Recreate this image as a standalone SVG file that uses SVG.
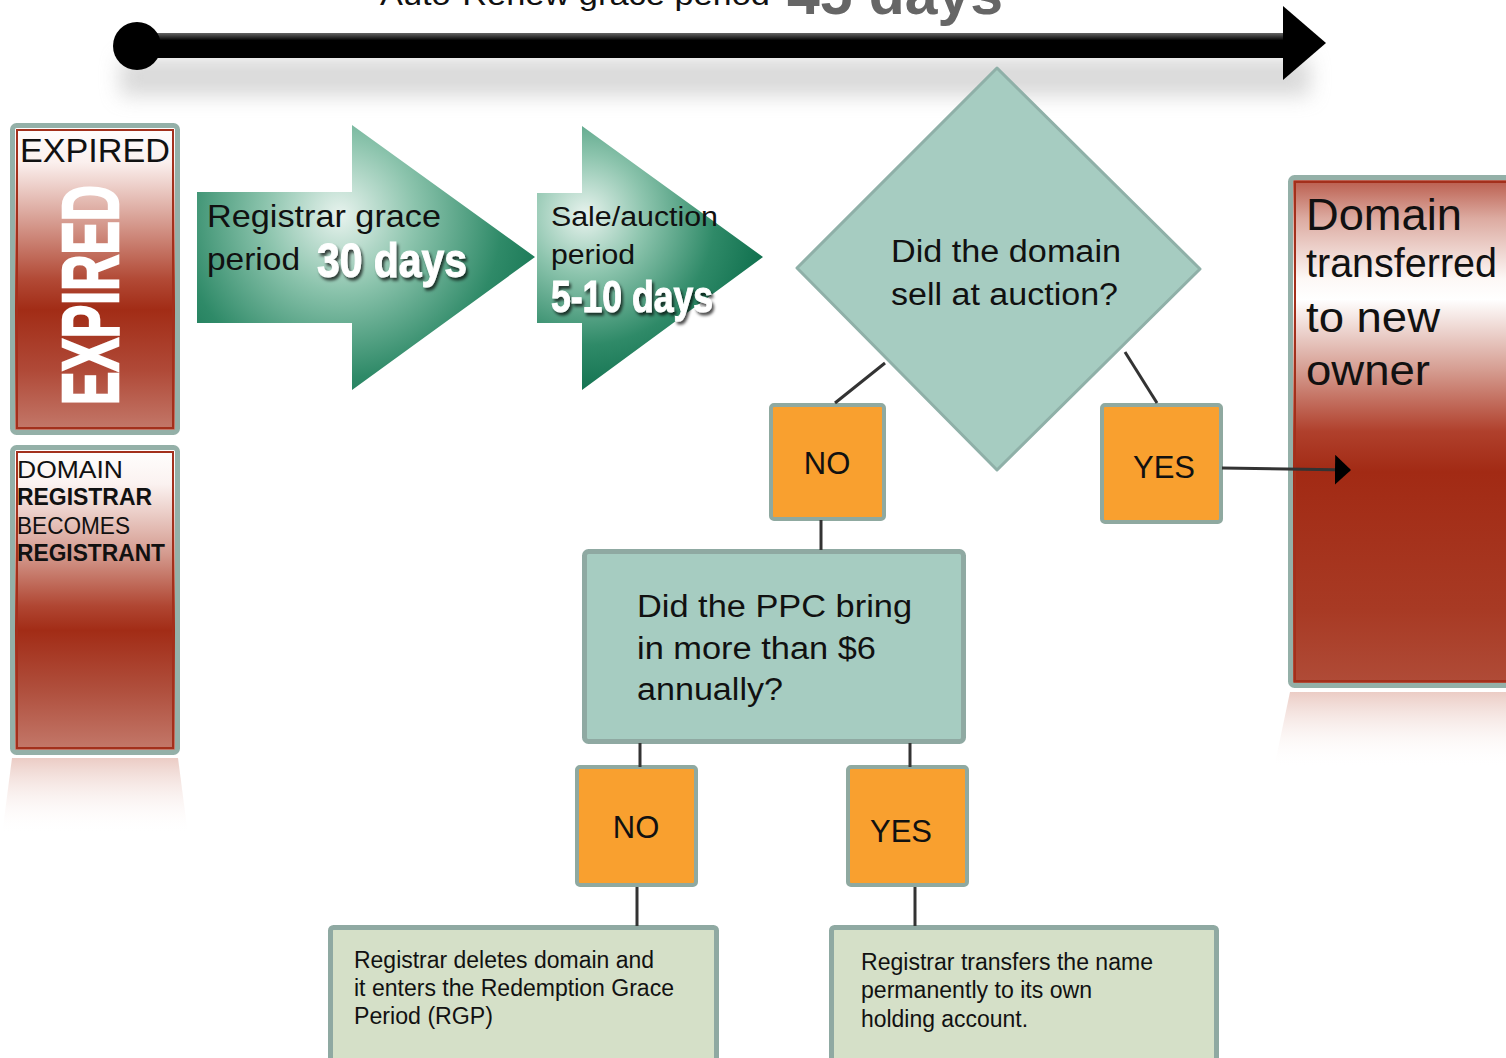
<svg xmlns="http://www.w3.org/2000/svg" width="1506" height="1058" viewBox="0 0 1506 1058">
<style>
.t{font-family:"Liberation Sans",Arial,sans-serif;fill:#111}
.b{font-weight:bold}
.cond{font-family:"Liberation Sans",Arial,sans-serif;font-weight:bold;fill:#fff}
.ob{fill:#f9a02f;stroke:#8fa9a0;stroke-width:4}
.teal{fill:#a6ccc1;stroke:#8fa9a2;stroke-width:5}
.leaf{fill:#d5e0c8;stroke:#8fa9a2;stroke-width:5}
.con{stroke:#333;stroke-width:3;fill:none}
.frame{stroke:#94b0a8;stroke-width:5}
.inner{fill:none;stroke:#a3301c;stroke-width:2}
</style>
<defs>
<linearGradient id="gExp" x1="0" y1="0" x2="0" y2="1">
<stop offset="0" stop-color="#ffffff"/>
<stop offset="0.12" stop-color="#fbf0ee"/>
<stop offset="0.3" stop-color="#d9a297"/>
<stop offset="0.5" stop-color="#b24a36"/>
<stop offset="0.6" stop-color="#a22c16"/>
<stop offset="0.8" stop-color="#b04a38"/>
<stop offset="1" stop-color="#c47a6c"/>
</linearGradient>
<linearGradient id="gDom" x1="0" y1="0" x2="0" y2="1">
<stop offset="0" stop-color="#ffffff"/>
<stop offset="0.12" stop-color="#fbf2f0"/>
<stop offset="0.35" stop-color="#d49a8e"/>
<stop offset="0.52" stop-color="#b04632"/>
<stop offset="0.6" stop-color="#a22c16"/>
<stop offset="0.8" stop-color="#b0503e"/>
<stop offset="1" stop-color="#c47a6c"/>
</linearGradient>
<linearGradient id="gNew" x1="0" y1="0" x2="0" y2="1">
<stop offset="0" stop-color="#b85848"/>
<stop offset="0.08" stop-color="#dcaaa0"/>
<stop offset="0.2" stop-color="#fdf8f6"/>
<stop offset="0.24" stop-color="#ffffff"/>
<stop offset="0.38" stop-color="#d59c90"/>
<stop offset="0.5" stop-color="#b0402c"/>
<stop offset="0.58" stop-color="#a22a14"/>
<stop offset="0.85" stop-color="#a83a24"/>
<stop offset="1" stop-color="#b04c38"/>
</linearGradient>
<linearGradient id="gRef" x1="0" y1="0" x2="0" y2="1">
<stop offset="0" stop-color="#e6bfb6"/>
<stop offset="1" stop-color="#ffffff" stop-opacity="0"/>
</linearGradient>
<radialGradient id="gA1" gradientUnits="userSpaceOnUse" cx="340" cy="215" r="250">
<stop offset="0" stop-color="#e8f3ee"/>
<stop offset="0.3" stop-color="#8cc4ad"/>
<stop offset="0.65" stop-color="#2f8a68"/>
<stop offset="1" stop-color="#066846"/>
</radialGradient>
<radialGradient id="gA2" gradientUnits="userSpaceOnUse" cx="585" cy="215" r="200">
<stop offset="0" stop-color="#e8f3ee"/>
<stop offset="0.3" stop-color="#8cc4ad"/>
<stop offset="0.65" stop-color="#2f8a68"/>
<stop offset="1" stop-color="#066846"/>
</radialGradient>
<linearGradient id="gBar" x1="0" y1="0" x2="0" y2="1">
<stop offset="0" stop-color="#666"/>
<stop offset="0.3" stop-color="#000"/>
<stop offset="1" stop-color="#000"/>
</linearGradient>
<filter id="blur" x="-10%" y="-100%" width="120%" height="300%"><feGaussianBlur stdDeviation="10"/></filter>
<filter id="sh" x="-10%" y="-20%" width="130%" height="160%"><feDropShadow dx="2" dy="3" stdDeviation="1.5" flood-color="#000" flood-opacity="0.7"/></filter>
<marker id="ah" markerWidth="16" markerHeight="30" refX="15" refY="15" orient="auto" markerUnits="userSpaceOnUse">
<path d="M0,0 L16,15 L0,30 z" fill="#000"/>
</marker>
</defs>

<g id="timeline">
<rect x="120" y="58" width="1190" height="38" fill="#bbb" opacity="0.55" filter="url(#blur)"/>
<text class="t" x="380" y="5" font-size="30" textLength="390" lengthAdjust="spacingAndGlyphs">Auto-Renew grace period</text>
<text class="t b" x="787" y="14" font-size="60" style="fill:#666" textLength="216" lengthAdjust="spacingAndGlyphs">45 days</text>
<rect x="137" y="33" width="1150" height="25" fill="url(#gBar)"/>
<circle cx="137" cy="46" r="24" fill="#000"/>
<polygon points="1283,6 1326,43 1283,80" fill="#000"/>
</g>

<g id="expired">
<rect x="12.5" y="125.5" width="165" height="307" rx="4" fill="url(#gExp)" class="frame"/>
<rect x="17" y="130" width="156" height="298" class="inner"/>
<text class="t" x="20" y="162" font-size="33" textLength="150" lengthAdjust="spacingAndGlyphs">EXPIRED</text>
<text class="cond" font-size="80" stroke="#fff" stroke-width="2.5" transform="translate(118,405) rotate(-90)" textLength="220" lengthAdjust="spacingAndGlyphs">EXPIRED</text>
</g>

<g id="registrar-becomes-registrant">
<rect x="12.5" y="447.5" width="165" height="305" rx="4" fill="url(#gDom)" class="frame"/>
<rect x="17" y="452" width="156" height="296" class="inner"/>
<text class="t" x="17" y="478" font-size="24" textLength="106" lengthAdjust="spacingAndGlyphs">DOMAIN</text>
<text class="t b" x="17" y="505" font-size="23" textLength="135" lengthAdjust="spacingAndGlyphs">REGISTRAR</text>
<text class="t" x="17" y="534" font-size="24" textLength="113" lengthAdjust="spacingAndGlyphs">BECOMES</text>
<text class="t b" x="17" y="561" font-size="23" textLength="148" lengthAdjust="spacingAndGlyphs">REGISTRANT</text>
<polygon points="12,758 178,758 188,835 2,835" fill="url(#gRef)" opacity="0.8"/>
</g>

<g id="registrar-grace">
<polygon points="197,192 352,192 352,125 535,257 352,390 352,323 197,323" fill="url(#gA1)"/>
<text class="t" x="207" y="227" font-size="32" textLength="234" lengthAdjust="spacingAndGlyphs">Registrar grace</text>
<text class="t" x="207" y="270" font-size="32" textLength="93" lengthAdjust="spacingAndGlyphs">period</text>
<text class="cond" x="317" y="277" font-size="48" stroke="#fff" stroke-width="1" textLength="150" lengthAdjust="spacingAndGlyphs" filter="url(#sh)">30 days</text>
</g>

<g id="sale-auction">
<polygon points="537,193 582,193 582,126 763,257 582,390 582,323 537,323" fill="url(#gA2)"/>
<text class="t" x="551" y="226" font-size="27" textLength="167" lengthAdjust="spacingAndGlyphs">Sale/auction</text>
<text class="t" x="551" y="264" font-size="27" textLength="84" lengthAdjust="spacingAndGlyphs">period</text>
<text class="cond" x="551" y="312" font-size="44" stroke="#fff" stroke-width="1" textLength="162" lengthAdjust="spacingAndGlyphs" filter="url(#sh)">5-10 days</text>
</g>

<g id="auction-decision">
<polygon points="997,68 1200,269 997,470 797,268" fill="#a6ccc1" stroke="#8fb0a8" stroke-width="3" stroke-linejoin="round"/>
<text class="t" x="891" y="262" font-size="31" textLength="230" lengthAdjust="spacingAndGlyphs">Did the domain</text>
<text class="t" x="891" y="305" font-size="31" textLength="227" lengthAdjust="spacingAndGlyphs">sell at auction?</text>
</g>

<g id="no-1">
<rect x="771" y="405" width="113" height="114" rx="3" class="ob"/>
<text class="t" x="827" y="474" font-size="31" text-anchor="middle">NO</text>
</g>

<g id="yes-1">
<rect x="1102" y="405" width="119" height="117" rx="3" class="ob"/>
<text class="t" x="1164" y="478" font-size="31" text-anchor="middle">YES</text>
</g>

<g id="domain-transferred">
<rect x="1290.5" y="177.5" width="230" height="508" rx="4" fill="url(#gNew)" class="frame"/>
<rect x="1295" y="182" width="220" height="499" class="inner"/>
<text class="t" x="1306" y="230" font-size="44" textLength="156" lengthAdjust="spacingAndGlyphs">Domain</text>
<text class="t" x="1306" y="277" font-size="40" textLength="191" lengthAdjust="spacingAndGlyphs">transferred</text>
<text class="t" x="1306" y="332" font-size="42" textLength="134" lengthAdjust="spacingAndGlyphs">to new</text>
<text class="t" x="1306" y="385" font-size="42" textLength="124" lengthAdjust="spacingAndGlyphs">owner</text>
<polygon points="1290,692 1506,692 1506,768 1274,768" fill="url(#gRef)" opacity="0.8"/>
</g>

<g id="ppc-decision">
<rect x="584.5" y="551.5" width="379" height="190" rx="4" class="teal"/>
<text class="t" x="637" y="617" font-size="31" textLength="275" lengthAdjust="spacingAndGlyphs">Did the PPC bring</text>
<text class="t" x="637" y="659" font-size="31" textLength="239" lengthAdjust="spacingAndGlyphs">in more than $6</text>
<text class="t" x="637" y="700" font-size="31" textLength="146" lengthAdjust="spacingAndGlyphs">annually?</text>
</g>

<g id="no-2">
<rect x="577" y="767" width="119" height="118" rx="3" class="ob"/>
<text class="t" x="636" y="838" font-size="31" text-anchor="middle">NO</text>
</g>

<g id="yes-2">
<rect x="848" y="767" width="119" height="118" rx="3" class="ob"/>
<text class="t" x="901" y="842" font-size="31" text-anchor="middle">YES</text>
</g>

<g id="rgp">
<rect x="330.5" y="927.5" width="386" height="140" rx="3" class="leaf"/>
<text class="t" x="354" y="968" font-size="23" textLength="300" lengthAdjust="spacingAndGlyphs">Registrar deletes domain and</text>
<text class="t" x="354" y="996" font-size="23" textLength="320" lengthAdjust="spacingAndGlyphs">it enters the Redemption Grace</text>
<text class="t" x="354" y="1024" font-size="23" textLength="139" lengthAdjust="spacingAndGlyphs">Period (RGP)</text>
</g>

<g id="holding-account">
<rect x="831.5" y="927.5" width="385" height="140" rx="3" class="leaf"/>
<text class="t" x="861" y="970" font-size="23" textLength="292" lengthAdjust="spacingAndGlyphs">Registrar transfers the name</text>
<text class="t" x="861" y="998" font-size="23" textLength="231" lengthAdjust="spacingAndGlyphs">permanently to its own</text>
<text class="t" x="861" y="1027" font-size="23" textLength="167" lengthAdjust="spacingAndGlyphs">holding account.</text>
</g>

<g id="connectors">
<line class="con" x1="885" y1="363" x2="835" y2="403"/>
<line class="con" x1="1125" y1="352" x2="1157" y2="403"/>
<line class="con" x1="1222" y1="468" x2="1350" y2="470" marker-end="url(#ah)"/>
<line class="con" x1="821" y1="520" x2="821" y2="550"/>
<line class="con" x1="640" y1="743" x2="640" y2="767"/>
<line class="con" x1="910" y1="743" x2="910" y2="767"/>
<line class="con" x1="637" y1="887" x2="637" y2="926"/>
<line class="con" x1="915" y1="887" x2="915" y2="926"/>
</g>
</svg>
